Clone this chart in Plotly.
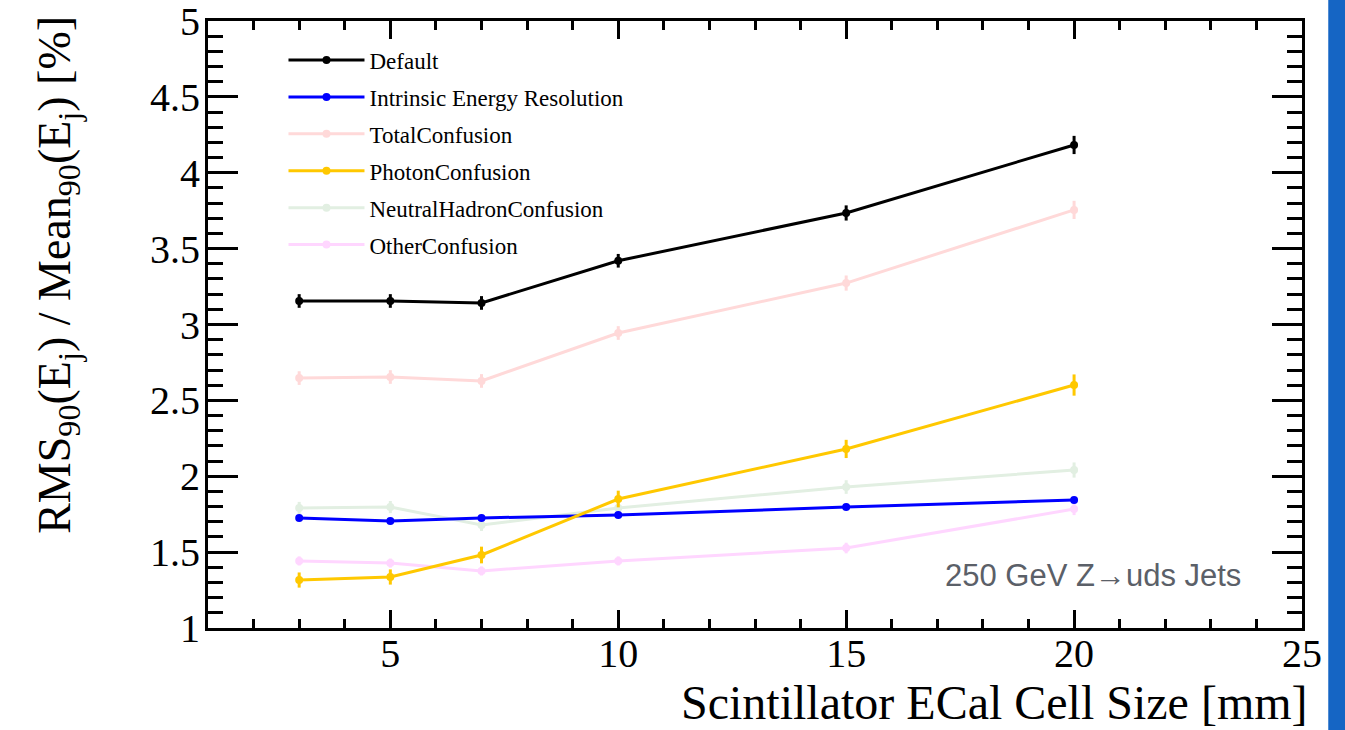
import plotly.graph_objects as go

cell_size = [3, 5, 7, 10, 15, 20]

default = [3.155, 3.155, 3.142, 3.420, 3.735, 4.183]
default_err = [0.045, 0.045, 0.045, 0.045, 0.05, 0.06]
intrinsic = [1.725, 1.705, 1.725, 1.745, 1.797, 1.843]
intrinsic_err = [0.01, 0.01, 0.01, 0.01, 0.01, 0.01]
total_conf = [2.647, 2.654, 2.628, 2.944, 3.273, 3.755]
total_conf_err = [0.045, 0.045, 0.045, 0.045, 0.05, 0.06]
photon_conf = [1.316, 1.336, 1.481, 1.850, 2.180, 2.601]
photon_conf_err = [0.05, 0.05, 0.055, 0.055, 0.06, 0.07]
neutral_conf = [1.791, 1.797, 1.679, 1.791, 1.929, 2.041]
neutral_conf_err = [0.04, 0.04, 0.04, 0.04, 0.045, 0.05]
other_conf = [1.442, 1.428, 1.376, 1.442, 1.527, 1.784]
other_conf_err = [0.03, 0.03, 0.03, 0.03, 0.035, 0.04]

x_ticks = [5, 10, 15, 20, 25]
y_ticks = [1, 1.5, 2, 2.5, 3, 3.5, 4, 4.5, 5]
y_tick_text = ["1", "1.5", "2", "2.5", "3", "3.5", "4", "4.5", "5"]

series = [
    # name, values, errors, colour, legend rank
    ("OtherConfusion", other_conf, other_conf_err, "#ffd6ff", 6),
    ("NeutralHadronConfusion", neutral_conf, neutral_conf_err, "#e2efe2", 5),
    ("TotalConfusion", total_conf, total_conf_err, "#ffd9d9", 3),
    ("Intrinsic Energy Resolution", intrinsic, intrinsic_err, "#0000ff", 2),
    ("PhotonConfusion", photon_conf, photon_conf_err, "#ffc800", 4),
    ("Default", default, default_err, "#000000", 1),
]

SERIF = "Liberation Serif, Times New Roman, serif"

fig = go.Figure()
for name, vals, errs, col, rank in series:
    fig.add_trace(go.Scatter(
        x=cell_size, y=vals, name=name, mode="lines+markers",
        line=dict(color=col, width=3),
        marker=dict(color=col, size=8, symbol="circle"),
        error_y=dict(type="data", array=errs, visible=True, color=col,
                     thickness=3, width=0),
        legendrank=rank, legendgroup=name,
    ))

axis_common = dict(
    showline=True, linecolor="black", linewidth=3, mirror="allticks",
    ticks="inside", tickcolor="black", tickwidth=3, automargin=False,
    showgrid=False, zeroline=False, ticklabeloverflow="allow",
    tickfont=dict(family=SERIF, size=40, color="black"),
)

fig.update_xaxes(
    range=[1, 25], tickvals=x_ticks, ticklen=18, ticklabelstandoff=-12,
    minor=dict(dtick=1, tick0=0, ticks="inside", ticklen=9, tickwidth=3,
               tickcolor="black", showgrid=False),
    **axis_common,
)
fig.update_yaxes(
    range=[1, 5], tickvals=y_ticks, ticktext=y_tick_text, ticklen=30,
    ticklabelstandoff=-3,
    minor=dict(dtick=0.1, tick0=0, ticks="inside", ticklen=15, tickwidth=3,
               tickcolor="black", showgrid=False),
    **axis_common,
)

fig.add_annotation(
    text="Scintillator ECal Cell Size [mm]", xref="paper", yref="paper",
    x=1, y=0, xanchor="right", yanchor="top", xshift=8, yshift=-46,
    showarrow=False, font=dict(family=SERIF, size=48, color="black"),
)
fig.add_annotation(
    text="RMS<sub>90</sub>(E<sub>j</sub>) / Mean<sub>90</sub>(E<sub>j</sub>) [%]",
    xref="paper", yref="paper", x=-0.137, y=1.012, xanchor="center", yanchor="top",
    textangle=-90, showarrow=False,
    font=dict(family=SERIF, size=46, color="black"),
)
fig.add_annotation(
    text="250 GeV Z→uds Jets", xref="x", yref="y", x=23.7, y=1.343,
    xanchor="right", yanchor="middle", showarrow=False,
    font=dict(family="Liberation Sans, Arial, sans-serif", size=31, color="#5b6068"),
)

# slide-edge decoration on the right
fig.add_shape(type="rect", xref="paper", yref="paper", x0=1.024, x1=1.05,
              y0=-0.2, y1=1.1, fillcolor="#1565c4", line=dict(width=0), layer="above")

fig.update_layout(
    width=1345, height=730,
    margin=dict(l=208, r=43, t=21, b=102, autoexpand=False),
    paper_bgcolor="white", plot_bgcolor="white",
    showlegend=True,
    legend=dict(
        x=0.069, y=0.971, xanchor="left", yanchor="top",
        font=dict(family=SERIF, size=23, color="black"),
        bgcolor="rgba(0,0,0,0)", borderwidth=0,
        tracegroupgap=4, itemwidth=76,
    ),
)

fig.write_html("out.html")
